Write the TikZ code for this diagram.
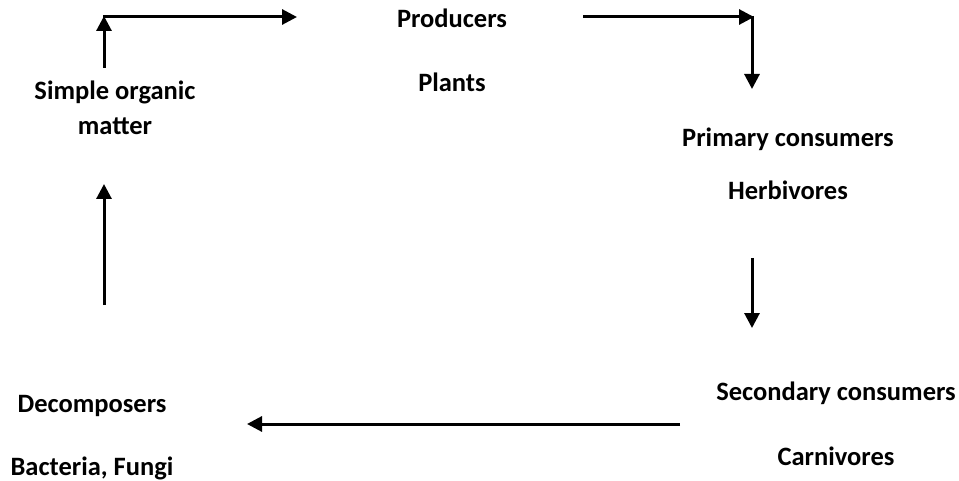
\documentclass[tikz,border=0pt]{standalone}
\usepackage{fontspec}
\setmainfont{Carlito}
\usetikzlibrary{arrows.meta}
\begin{document}
\begin{tikzpicture}[x=1pt,y=-1pt,
  lbl/.style={inner sep=0pt,anchor=base,font=\fontsize{26.5}{30}\selectfont\bfseries},
  flow/.style={line width=3pt,-{Triangle[length=15pt,width=15pt]}}]
\useasboundingbox (0,0) rectangle (959,481);
% labels
\node[lbl] (prod) at (452,28) {Producers};
\node[lbl] (plants) at (452,92) {Plants};
\node[lbl] (simple) at (115,100) {Simple organic};
\node[lbl] (matter) at (115,135) {matter};
\node[lbl] (prim) at (788,147) {Primary consumers};
\node[lbl] (herb) at (788,200) {Herbivores};
\node[lbl] (sec) at (836,400) {Secondary consumers};
\node[lbl] (carn) at (836,465) {Carnivores};
\node[lbl] (dec) at (92,412) {Decomposers};
\node[lbl] (bact) at (92,475) {Bacteria, Fungi};
% connector points
\coordinate (a1s) at (104,68);
\coordinate (a1e) at (104,16);
\coordinate (a2s) at (103,17);
\coordinate (a2e) at (297,17);
\coordinate (b1s) at (583,17);
\coordinate (b1e) at (754,17);
\coordinate (b2s) at (752,16);
\coordinate (b2e) at (752,89);
\coordinate (c1s) at (752,258);
\coordinate (c1e) at (752,328);
\coordinate (d1s) at (680,424);
\coordinate (d1e) at (247,424);
\coordinate (e1s) at (104,305);
\coordinate (e1e) at (104,184);
% connectors
\draw[flow] (a1s) -- (a1e);
\draw[flow] (a2s) -- (a2e);
\draw[flow] (b1s) -- (b1e);
\draw[flow] (b2s) -- (b2e);
\draw[flow] (c1s) -- (c1e);
\draw[flow] (d1s) -- (d1e);
\draw[flow] (e1s) -- (e1e);
\end{tikzpicture}
\end{document}
